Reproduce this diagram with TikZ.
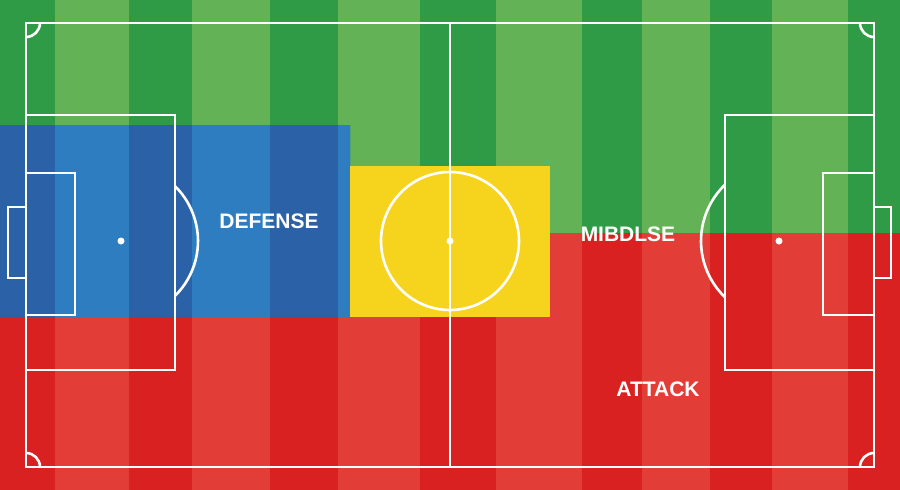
\documentclass[tikz,border=0pt]{standalone}
\usepackage{fontspec}
\setmainfont{Liberation Sans}
\definecolor{gdark}{HTML}{2F9B47}
\definecolor{glight}{HTML}{63B356}
\definecolor{bdark}{HTML}{2B61A6}
\definecolor{blight}{HTML}{2F7DC1}
\definecolor{rdark}{HTML}{D92121}
\definecolor{rlight}{HTML}{E33D37}
\definecolor{yel}{HTML}{F6D41E}
\newcommand{\pitchstripes}[2]{%
  \fill[#1] (0,0) rectangle (900,490);
  \foreach \a/\b in {55/129,192/270,338/420,496/582,642/710,772/848}
    {\fill[#2] (\a,0) rectangle (\b,490);}
}
\tikzset{
  pline/.style={draw=white,line width=2.6pt},
  spot/.style={fill=white},
  zonelabel/.style={text=white,font=\bfseries\fontsize{21}{24}\selectfont,inner sep=0pt}
}
\begin{document}
\begin{tikzpicture}[x=1pt,y=-1pt]
\useasboundingbox (0,0) rectangle (900,490);
% green base
\pitchstripes{gdark}{glight}
% blue zone
\begin{scope}
  \clip (0,125) rectangle (350,317);
  \pitchstripes{bdark}{blight}
\end{scope}
% red zone
\begin{scope}
  \clip (0,317) -- (550,317) -- (550,233) -- (900,233) -- (900,490) -- (0,490) -- cycle;
  \pitchstripes{rdark}{rlight}
\end{scope}
% yellow zone
\fill[yel] (350,166) rectangle (550,317);
% pitch lines
\draw[pline] (26,23) rectangle (874,467);
\draw[pline] (450,23) -- (450,467);
\draw[pline] (450,241) circle[radius=69];
\fill[spot] (450,241) circle[radius=3.5];
% left end
\draw[pline] (26,115) rectangle (175,370);
\draw[pline] (26,173) rectangle (75,315);
\draw[pline] (26,207) -- (8,207) -- (8,278) -- (26,278);
\fill[spot] (121,241) circle[radius=3.5];
\draw[pline] (121,241) ++(-45.5:77) arc[start angle=-45.5,end angle=45.5,radius=77];
% right end
\draw[pline] (725,115) rectangle (874,370);
\draw[pline] (823,173) rectangle (874,315);
\draw[pline] (874,207) -- (891,207) -- (891,278) -- (874,278);
\fill[spot] (779,241) circle[radius=3.5];
\draw[pline] (779,241) ++(134:78) arc[start angle=134,end angle=226,radius=78];
% corners
\draw[pline] (40,23) arc[start angle=0,end angle=90,radius=14];
\draw[pline] (860,23) arc[start angle=180,end angle=90,radius=14];
\draw[pline] (40,467) arc[start angle=0,end angle=-90,radius=14];
\draw[pline] (860,467) arc[start angle=180,end angle=270,radius=14];
% labels
\node[zonelabel] (defense) at (269,221) {DEFENSE};
\node[zonelabel] (middle) at (628,234) {MIBDLSE};
\node[zonelabel] (attack) at (658,389) {ATTACK};
\end{tikzpicture}
\end{document}
